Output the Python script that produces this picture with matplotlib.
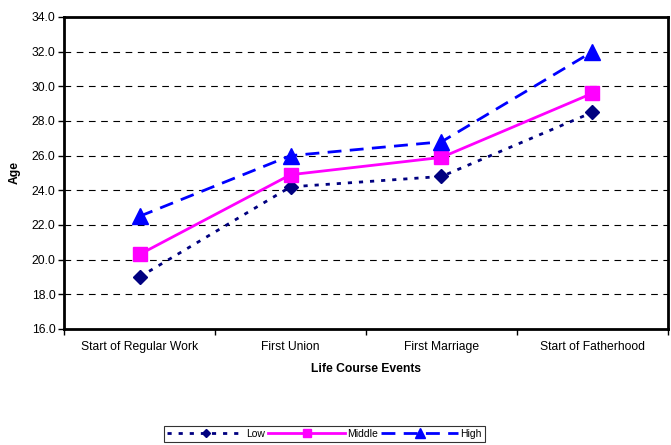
import matplotlib
matplotlib.use("Agg")
import matplotlib.pyplot as plt
from matplotlib.ticker import MultipleLocator, FixedLocator

plt.rcParams['font.family'] = ['Liberation Sans', 'DejaVu Sans']

categories = ["Start of Regular Work", "First Union", "First Marriage", "Start of Fatherhood"]
low = [19.0, 24.2, 24.8, 28.5]
middle = [20.3, 24.9, 25.9, 29.6]
high = [22.5, 26.0, 26.8, 32.0]

fig = plt.figure(figsize=(6.71, 4.45), dpi=100)
ax = fig.add_axes([0.0954, 0.2607, 0.9001, 0.7011])

x = list(range(len(categories)))
ax.plot(x, low, color='#000080', lw=2, linestyle=(0, (1.5, 2.5)), marker='D', ms=7.5, label='Low')
ax.plot(x, middle, color='#FF00FF', lw=2, linestyle='-', marker='s', ms=10, label='Middle')
ax.plot(x, high, color='#0000FF', lw=2, linestyle=(0, (5, 3)), marker='^', ms=11, label='High')

ax.set_xlim(-0.5, 3.5)
ax.set_ylim(16, 34)
ax.yaxis.set_major_locator(MultipleLocator(2))
ax.yaxis.set_major_formatter(matplotlib.ticker.FormatStrFormatter('%.1f'))
ax.set_xticks(x)
ax.set_xticklabels(categories, fontsize=8.7)
ax.xaxis.set_minor_locator(FixedLocator([-0.5, 0.5, 1.5, 2.5, 3.5]))
ax.tick_params(axis='x', which='major', length=0, pad=9)
ax.tick_params(axis='x', which='minor', length=4, width=1, direction='out')
ax.tick_params(axis='y', labelsize=8.7, length=4, width=1, direction='out', pad=2)

for yv in range(18, 34, 2):
    ax.axhline(yv, color='black', lw=0.8, linestyle=(0, (6, 5)), zorder=0)

for s in ax.spines.values():
    s.set_linewidth(2)
    s.set_color('black')

ax.set_ylabel('Age', fontsize=8.7, fontweight='bold', labelpad=8)
ax.set_xlabel('Life Course Events', fontsize=8.7, fontweight='bold', labelpad=7)

leg = fig.legend(loc='center', bbox_to_anchor=(0.4836, 0.0247), ncol=3, fontsize=7.5,
                 frameon=True, fancybox=False, edgecolor='black', handlelength=7.4,
                 columnspacing=0.3, handletextpad=0.2, borderpad=0.25, markerscale=0.6)
leg.get_frame().set_linewidth(0.8)

fig.savefig('out.png', dpi=100)
